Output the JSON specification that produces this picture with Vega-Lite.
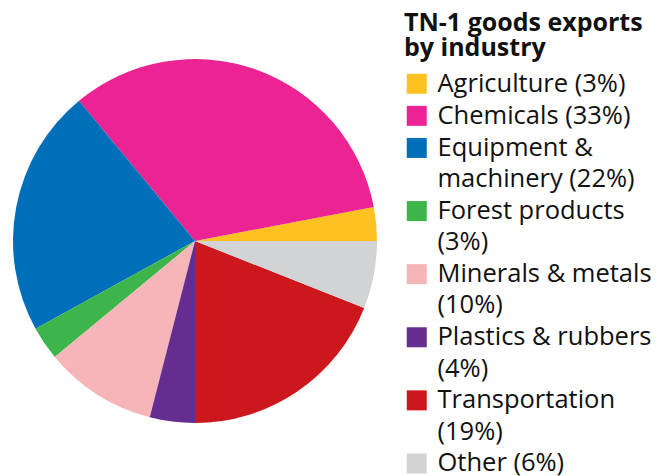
{
  "$schema": "https://vega.github.io/schema/vega-lite/v6.json",
  "width": 390,
  "height": 482,
  "padding": 0,
  "autosize": {"type": "pad"},
  "background": "white",
  "data": {
    "values": [
      {"industry": "Agriculture (3%)", "share": 3, "order": 1},
      {"industry": "Chemicals (33%)", "share": 33, "order": 2},
      {"industry": "Equipment & machinery (22%)", "share": 22, "order": 3},
      {"industry": "Forest products (3%)", "share": 3, "order": 4},
      {"industry": "Minerals & metals (10%)", "share": 10, "order": 5},
      {"industry": "Plastics & rubbers (4%)", "share": 4, "order": 6},
      {"industry": "Transportation (19%)", "share": 19, "order": 7},
      {"industry": "Other (6%)", "share": 6, "order": 8}
    ]
  },
  "mark": {"type": "arc", "outerRadius": 182, "stroke": null},
  "encoding": {
    "theta": {"field": "share", "type": "quantitative", "stack": true, "scale": {"range": [1.5708, -4.7124]}},
    "order": {"field": "order", "type": "quantitative"},
    "color": {
      "field": "industry",
      "type": "nominal",
      "sort": {"field": "order"},
      "scale": {
        "domain": ["Agriculture (3%)", "Chemicals (33%)", "Equipment & machinery (22%)", "Forest products (3%)", "Minerals & metals (10%)", "Plastics & rubbers (4%)", "Transportation (19%)", "Other (6%)"],
        "range": ["#FDC121", "#EC2393", "#006FB9", "#3DB54A", "#F5B5B9", "#662D91", "#CC171D", "#D1D3D4"]
      },
      "legend": {
        "title": ["TN-1 goods exports", "by industry"],
        "titleFont": "Open Sans",
        "titleFontSize": 25,
        "titleFontWeight": "bold",
        "titleColor": "#111111",
        "titleLineHeight": 25,
        "titleLimit": 300,
        "titlePadding": 10,
        "labelFont": "Open Sans",
        "labelFontSize": 25.5,
        "labelColor": "#111111",
        "labelLimit": 300,
        "labelOffset": 8,
        "labelExpr": "datum.label == 'Equipment & machinery (22%)' ? ['Equipment &', 'machinery (22%)'] : datum.label == 'Forest products (3%)' ? ['Forest products', '(3%)'] : datum.label == 'Minerals & metals (10%)' ? ['Minerals & metals', '(10%)'] : datum.label == 'Plastics & rubbers (4%)' ? ['Plastics & rubbers', '(4%)'] : datum.label == 'Transportation (19%)' ? ['Transportation', '(19%)'] : datum.label",
        "symbolType": "square",
        "symbolSize": 400,
        "symbolStrokeWidth": 0,
        "rowPadding": 5.1,
        "orient": "right",
        "offset": 3,
        "padding": 11
      }
    }
  },
  "config": {
    "view": {"stroke": null},
    "style": {"guide-label": {"lineHeight": 31.3}}
  }
}
